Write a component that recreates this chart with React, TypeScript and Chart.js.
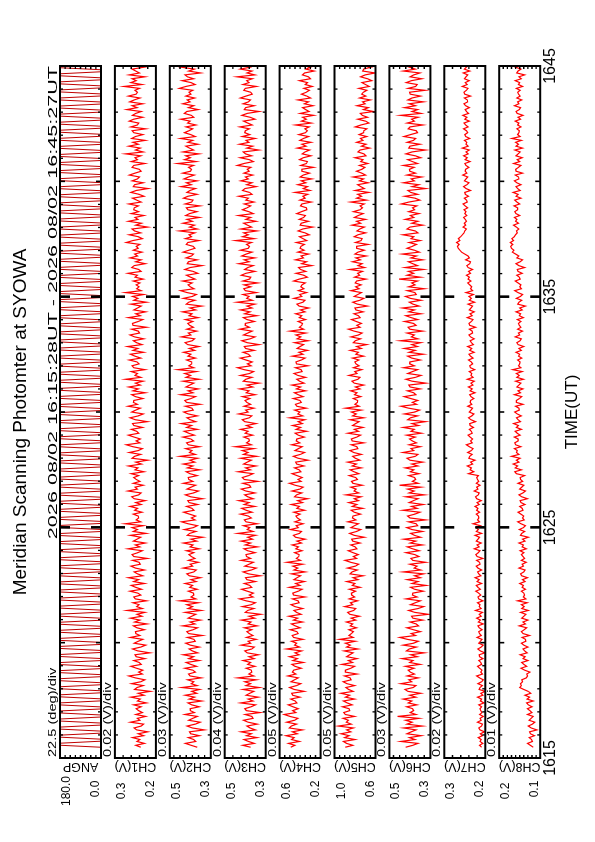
import React, { useEffect, useRef } from "react";
import { Chart, registerables } from "chart.js";

Chart.register(...registerables);

const FONT = '"Liberation Sans", Arial, Helvetica, sans-serif';
const W = 842;
const H = 595;

// ---------- texts ----------
const titleText = "Meridian Scanning Photomter at SYOWA";
const periodText = "2026 08/02 16:15:28UT - 2026 08/02 16:45:27UT";
const timeAxisTitle = "TIME(UT)";

// ---------- time axis (minutes after 16:00 UT) ----------
const timeStart = 15 + 28 / 60;
const timeEnd = 45 + 27 / 60;
const axisMinMin = 15;
const axisMaxMin = 45;
const timeLabelValues = [15, 25, 35, 45];
const timeLabels = ["1615", "1625", "1635", "1645"];

// ---------- panels ----------
const panelNames = ["ANGP", "CH1(V)", "CH2(V)", "CH3(V)", "CH4(V)", "CH5(V)", "CH6(V)", "CH7(V)", "CH8(V)"];
const panelMin = [0, 0.2, 0.3, 0.3, 0.2, 0.6, 0.3, 0.2, 0.1];
const panelMax = [180, 0.3, 0.5, 0.5, 0.6, 1.0, 0.5, 0.3, 0.2];
const minLabels = ["0.0", "0.2", "0.3", "0.3", "0.2", "0.6", "0.3", "0.2", "0.1"];
const maxLabels = ["180.0", "0.3", "0.5", "0.5", "0.6", "1.0", "0.5", "0.3", "0.2"];
const divSize = [22.5, 0.02, 0.03, 0.04, 0.05, 0.05, 0.03, 0.02, 0.01];
const divLabels = [
  "22.5 (deg)/div", "0.02 (V)/div", "0.03 (V)/div", "0.04 (V)/div", "0.05 (V)/div",
  "0.05 (V)/div", "0.03 (V)/div", "0.02 (V)/div", "0.01 (V)/div",
];

// ---------- series ----------
const angpDeg = [
  0,180,180,0,0,180,180,0,0,180,180,0,0,180,180,0,0,180,180,0,
  0,180,180,0,0,180,180,0,0,180,180,0,0,180,180,0,0,180,180,0,
  0,180,180,0,0,180,180,0,0,180,180,0,0,180,180,0,0,180,180,0,
  0,180,180,0,0,180,180,0,0,180,180,0,0,180,180,0,0,180,180,0,
  0,180,180,0,0,180,180,0,0,180,180,0,0,180,180,0,0,180,180,0,
  0,180,180,0,0,180,180,0,0,180,180,0,0,180,180,0,0,180,180,0,
  0,180,180,0,0,180,180,0,0,180,180,0,0,180,180,0,0,180,180,0,
  0,180,180,0,0,180,180,0,0,180,180,0,0,180,180,0,0,180,180,0,
  0,180,180,0,0,180,180,0,0,180,180,0,0,180,180,0,0,180,180,0,
  0,180,180,0,0,180,180,0,0,180,180,0,0,180,180,0,0,180,180,0,
  0,180,180,0,0,180,180,0,0,180,180,0,0,180,180,0,0,180,180,0,
  0,180,180,0,0,180,180,0,0,180,180,0,0,180,180,0,0,180,180,0,
  0,180,180,0,0,180,180,0,0,180,180,0,0,180,180,0,0,180,180,0,
  0,180,180,0,0,180,180,0,0,180,180,0,0,180,180,0,0,180,180,0,
  0,180,180,0,0,180,180,0,0,180,180,0,0,180,180,0,0,180,180,0,
  0,180,180,0,0,180,180,0,0,180,180,0,0,180,180,0,0,180,180,0,
  0,180,180,0,0,180,180,0,0,180,180,0,0,180,180,0,0,180,180,0,
  0,180,180,0,
];

const ch1mV = [
  237,249,228,246,239,257,230,243,220,247,253,236,230,262,239,245,225,249,233,242,
  248,236,254,223,245,238,261,229,243,214,252,246,231,259,237,227,250,266,233,242,
  232,247,261,236,241,254,227,248,251,215,244,257,237,225,253,243,232,262,239,249,
  250,228,246,255,222,252,239,262,234,246,227,270,233,247,241,256,223,250,254,237,
  244,263,235,249,260,228,254,242,267,232,245,253,228,250,261,238,241,257,221,254,
  258,244,233,268,239,250,226,255,246,237,262,224,255,245,258,231,275,237,248,242,
  243,255,234,252,245,263,236,249,226,253,259,242,236,268,245,251,231,255,239,248,
  254,242,260,229,251,244,267,235,249,220,258,252,237,265,243,233,256,272,239,248,
  238,253,267,242,247,260,233,254,257,221,250,263,243,231,259,249,238,268,245,255,
  254,232,250,259,226,256,243,266,238,250,231,274,237,251,245,260,227,254,258,241,
  246,265,237,251,262,230,256,244,269,234,247,255,230,252,263,240,243,259,223,256,
  257,243,232,267,238,249,225,254,245,236,261,223,254,244,257,230,274,236,247,241,
  248,239,255,231,251,245,268,236,242,259,253,226,249,236,263,245,252,234,255,243,
  248,239,272,256,233,243,265,237,252,258,220,249,235,267,244,251,229,260,242,254,
  253,243,266,236,247,257,229,241,261,248,219,255,252,231,258,245,240,265,251,236,
  241,258,254,227,260,245,251,237,274,231,250,238,266,243,256,226,259,250,232,254,
  258,225,261,245,242,265,254,232,257,249,236,271,246,258,232,264,253,239,267,248,
  245,251,240,278,234,261,248,258,227,265,240,249,258,229,253,242,271,236,247,261,
];

const ch2mV = [
  366,396,424,374,384,410,356,398,404,332,390,416,376,352,408,388,366,426,380,400,
  401,357,393,411,345,405,379,425,369,393,355,441,367,395,383,413,347,401,409,375,
  388,426,370,398,420,356,408,384,434,364,390,406,356,400,422,376,382,414,342,408,
  417,387,365,437,377,401,351,411,393,373,425,347,411,389,417,361,451,373,397,383,
  385,410,367,403,389,425,371,397,350,405,417,383,371,435,389,401,361,409,377,395,
  407,383,419,357,401,387,433,369,397,339,415,403,373,429,385,365,411,443,377,395,
  374,404,432,382,392,418,364,406,412,340,398,424,384,360,416,396,374,434,388,408,
  410,366,402,420,354,414,388,434,378,402,364,450,376,404,392,422,356,410,418,384,
  398,436,380,408,430,366,418,394,444,374,400,416,366,410,432,386,392,424,352,418,
  427,397,375,447,387,411,361,421,403,383,435,357,421,399,427,371,461,383,407,393,
  393,418,375,411,397,433,379,405,358,413,425,391,379,443,397,409,369,417,385,403,
  412,388,424,362,406,392,438,374,402,344,420,408,378,434,390,370,416,448,382,400,
  411,391,437,377,399,419,363,387,427,401,343,415,409,367,421,395,385,435,407,377,
  386,420,412,358,424,394,406,378,452,366,404,380,436,390,416,356,422,404,368,412,
  419,353,425,393,387,433,411,367,417,401,375,445,395,419,367,431,409,381,437,399,
  394,408,384,462,372,428,400,422,358,436,384,404,422,362,412,388,448,376,398,428,
  407,389,421,373,413,401,447,383,395,429,417,362,409,383,437,401,415,379,422,397,
  406,388,454,422,376,396,440,384,414,426,350,408,380,444,398,412,368,430,394,418,
];

const ch3mV = [
  374,412,356,384,406,342,394,370,420,350,376,392,342,386,408,362,368,400,328,394,
  402,372,350,422,362,386,336,396,378,358,410,332,396,374,402,346,436,358,382,368,
  370,395,352,388,374,410,356,382,335,390,402,368,356,420,374,386,346,394,362,380,
  392,368,404,342,386,372,418,354,382,324,400,388,358,414,370,350,396,428,362,380,
  360,390,418,368,378,404,350,392,398,326,384,410,370,346,402,382,360,420,374,394,
  396,352,388,406,340,400,374,420,364,388,350,436,362,390,378,408,342,396,404,370,
  385,423,367,395,417,353,405,381,431,361,387,403,353,397,419,373,379,411,339,405,
  414,384,362,434,374,398,348,408,390,370,422,344,408,386,414,358,448,370,394,380,
  382,407,364,400,386,422,368,394,347,402,414,380,368,432,386,398,358,406,374,392,
  401,377,413,351,395,381,427,363,391,333,409,397,367,423,379,359,405,437,371,389,
  366,396,424,374,384,410,356,398,404,332,390,416,376,352,408,388,366,426,380,400,
  399,355,391,409,343,403,377,423,367,391,353,439,365,393,381,411,345,399,407,373,
  405,339,411,379,373,419,397,353,403,387,361,431,381,405,353,417,395,367,423,385,
  379,393,369,447,357,413,385,407,343,421,369,389,407,347,397,373,433,361,383,413,
  391,373,405,357,397,385,431,367,379,413,401,346,393,367,421,385,399,363,406,381,
  390,372,438,406,360,380,424,368,398,410,334,392,364,428,382,396,352,414,378,402,
  400,380,426,366,388,408,352,376,416,390,332,404,398,356,410,384,374,424,396,366,
  373,407,399,345,411,381,393,365,439,353,391,367,423,377,403,343,409,391,355,399,
];

const ch4mV = [
  492,452,513,407,482,458,537,428,475,377,506,486,435,530,455,421,499,554,441,472,
  418,469,516,431,448,492,401,472,482,360,458,503,435,394,489,455,418,520,441,475,
  463,389,450,480,368,470,426,504,409,450,385,531,406,453,433,484,372,463,477,419,
  431,495,400,448,485,376,465,424,509,390,434,461,376,451,488,410,420,475,352,465,
  471,419,382,505,402,443,358,460,430,396,484,351,460,423,471,375,528,396,437,413,
  410,453,380,441,417,478,387,431,351,444,465,407,387,495,417,438,370,451,397,427,
  441,401,462,356,431,407,486,377,424,326,455,435,384,479,404,370,448,503,390,421,
  380,431,478,393,410,454,363,434,444,322,420,465,397,356,451,417,380,482,403,437,
  432,358,419,449,337,439,395,473,378,419,354,500,375,422,402,453,341,432,446,388,
  402,466,371,419,456,347,436,395,480,361,405,432,347,422,459,381,391,446,323,436,
  441,389,352,475,372,413,328,430,400,366,454,321,430,393,441,345,498,366,407,383,
  376,419,346,407,383,444,353,397,317,410,431,373,353,461,383,404,336,417,363,393,
  381,350,463,408,330,364,439,344,395,415,286,384,337,446,367,391,316,422,361,401,
  392,358,437,335,372,406,311,352,420,375,277,399,389,318,409,365,348,433,386,335,
  338,396,382,291,403,352,372,325,450,304,369,328,423,345,389,287,399,369,308,382,
  383,270,393,338,328,406,369,294,379,352,308,427,342,383,294,403,366,318,413,349,
  329,353,312,444,291,387,339,376,267,400,312,346,376,274,359,318,421,298,335,387,
  339,309,363,282,350,329,407,299,319,377,356,263,343,299,390,329,353,292,365,322,
];

const ch5mV = [
  895,821,882,912,800,902,858,936,841,882,817,963,838,885,865,916,804,895,909,851,
  859,923,828,876,913,804,893,852,937,818,862,889,804,879,916,838,848,903,780,893,
  893,841,804,927,824,865,780,882,852,818,906,773,882,845,893,797,950,818,859,835,
  816,859,786,847,823,884,793,837,757,850,871,813,793,901,823,844,776,857,803,833,
  835,795,856,750,825,801,880,771,818,720,849,829,778,873,798,764,842,897,784,815,
  768,819,866,781,798,842,751,822,832,710,808,853,785,744,839,805,768,870,791,825,
  820,746,807,837,725,827,783,861,766,807,742,888,763,810,790,841,729,820,834,776,
  793,857,762,810,847,738,827,786,871,752,796,823,738,813,850,772,782,837,714,827,
  835,783,746,869,766,807,722,824,794,760,848,715,824,787,835,739,892,760,801,777,
  774,817,744,805,781,842,751,795,715,808,829,771,751,859,781,802,734,815,761,791,
  802,762,823,717,792,768,847,738,785,687,816,796,745,840,765,731,809,864,751,782,
  737,788,835,750,767,811,720,791,801,679,777,822,754,713,808,774,737,839,760,794,
  740,798,784,693,805,754,774,727,852,706,771,730,825,747,791,689,801,771,710,784,
  785,672,795,740,730,808,771,696,781,754,710,829,744,785,696,805,768,720,815,751,
  727,751,710,842,689,785,737,774,665,798,710,744,774,672,757,716,819,696,733,785,
  733,703,757,676,744,723,801,693,713,771,750,657,737,693,784,723,747,686,759,716,
  715,684,797,742,664,698,773,678,729,749,620,718,671,780,701,725,650,756,695,735,
  718,684,763,661,698,732,637,678,746,701,603,725,715,644,735,691,674,759,712,661,
];

const ch6mV = [
  421,386,361,444,375,402,345,414,393,370,430,340,414,389,421,356,460,370,398,382,
  387,416,366,408,391,433,371,401,347,410,424,384,371,444,391,405,359,414,378,398,
  408,380,422,350,401,385,438,364,396,330,417,403,369,433,382,359,412,449,373,394,
  349,383,415,358,369,399,337,386,392,310,376,406,360,333,397,374,349,418,365,388,
  386,335,377,397,321,390,360,413,349,377,333,432,347,379,365,400,324,386,395,356,
  376,419,355,387,413,339,399,371,429,348,378,396,339,390,415,362,369,406,323,399,
  411,376,351,434,365,392,335,404,383,360,420,330,404,379,411,346,450,360,388,372,
  377,406,356,398,381,423,361,391,337,400,414,374,361,434,381,395,349,404,368,388,
  402,374,416,344,395,379,432,358,390,324,411,397,363,427,376,353,406,443,367,388,
  362,396,428,371,382,412,350,399,405,323,389,419,373,346,410,387,362,431,378,401,
  400,349,391,411,335,404,374,427,363,391,347,446,361,393,379,414,338,400,409,370,
  383,426,362,394,420,346,406,378,436,355,385,403,346,397,422,369,376,413,330,406,
  375,391,363,453,349,414,382,407,333,423,363,386,407,338,395,368,437,354,379,414,
  388,368,404,349,395,381,434,361,374,414,400,337,391,361,423,381,398,356,406,377,
  387,366,442,405,352,375,426,362,396,410,323,389,357,431,378,394,343,415,373,401,
  402,379,432,363,388,411,347,374,420,390,324,406,400,351,413,383,372,429,397,363,
  369,408,399,337,413,378,392,360,445,346,390,362,426,373,403,334,410,390,348,399,
  402,326,409,372,365,418,393,342,399,381,351,432,374,402,342,416,390,358,422,379,
];

const ch7mV = [
  209,214,206,213,210,217,207,212,202,213,216,209,207,219,210,213,205,214,208,211,
  213,209,216,203,212,209,219,206,211,200,215,213,207,218,209,205,214,221,207,211,
  208,214,219,209,211,216,206,214,215,201,212,218,210,205,216,212,208,220,210,214,
  216,208,215,218,205,217,212,221,210,215,207,224,210,215,213,219,206,216,218,211,
  216,223,212,218,222,209,220,215,225,211,216,219,209,218,222,213,214,221,206,220,
  223,217,213,227,215,220,210,222,218,214,225,209,222,217,223,212,230,214,219,216,
  217,222,214,221,218,225,215,220,210,221,224,217,215,227,218,221,213,222,216,219,
  221,217,241,228,237,234,244,231,236,225,240,238,232,243,234,230,239,246,232,236,
  231,237,242,232,234,239,229,237,238,224,235,241,233,228,239,235,231,243,233,237,
  236,228,235,238,225,237,232,241,230,235,227,244,230,235,233,239,226,236,238,231,
  234,241,230,236,240,227,238,233,243,229,234,237,227,236,240,231,232,239,224,238,
  240,234,230,244,232,237,227,239,235,231,242,226,239,234,240,229,247,231,236,233,
  238,243,235,242,239,246,236,241,231,242,245,238,236,248,239,242,250,258,262,266,
  268,264,270,262,266,260,256,252,250,246,254,248,251,246,249,253,245,250,247,252,
  243,249,254,244,246,251,241,249,250,236,247,253,245,240,251,247,243,255,245,249,
  248,240,247,250,237,249,244,253,242,247,239,256,242,247,245,251,238,248,250,243,
  246,253,242,248,252,239,250,245,255,241,246,249,239,248,252,243,244,251,236,250,
  252,246,242,256,244,249,239,251,247,243,254,238,251,246,252,241,259,243,248,245,
];

const ch8mV = [
  117,124,131,119,121,127,114,124,126,108,122,129,119,113,127,122,117,131,120,125,
  131,120,129,133,117,132,126,137,123,129,140,150,146,148,143,145,134,131,133,125,
  138,147,133,140,145,130,142,137,149,132,138,142,130,140,146,135,136,144,126,142,
  146,139,133,151,136,142,130,145,140,135,148,129,145,139,146,132,155,135,141,138,
  140,146,136,144,141,150,137,143,131,145,148,140,137,152,141,144,134,146,138,142,
  146,140,149,134,144,141,152,137,143,129,148,145,138,151,141,136,147,155,139,143,
  140,147,154,142,144,150,137,147,149,131,145,152,142,136,150,145,140,154,143,148,
  149,138,158,162,146,161,155,166,152,158,149,170,152,158,156,163,147,160,162,154,
  154,163,149,156,161,146,158,153,165,148,154,158,146,156,162,151,152,160,142,158,
  158,151,145,163,148,154,142,157,152,147,160,141,157,151,158,144,167,147,153,150,
  149,155,145,153,150,159,146,152,140,154,157,149,146,161,150,153,143,155,147,151,
  153,147,156,141,151,148,159,144,150,136,155,152,145,158,148,143,154,162,146,150,
  147,154,161,149,151,157,144,154,156,138,152,159,149,143,157,152,160,168,164,170,
  172,167,173,165,169,163,160,156,158,152,158,165,153,160,157,163,150,159,162,155,
  155,164,150,157,162,147,159,154,166,149,155,159,147,157,163,152,153,161,143,159,
  160,153,147,165,150,156,144,159,154,149,162,143,159,153,160,146,169,149,155,152,
  151,157,147,155,152,161,148,154,142,156,159,151,148,163,152,155,145,157,149,153,
  155,149,158,143,153,150,161,146,152,138,157,154,147,160,150,145,156,164,148,152,
];

// ---------- layout (landscape frame, rotated onto the portrait page) ----------
const PLOT_LEFT = 84;
const PLOT_RIGHT = 776;
const FIRST_TOP = 60;
const PITCH = 54.9;
const PANEL_H = 41;

function toPoints(values: number[], scale: number) {
  const step = (timeEnd - timeStart) / (values.length - 1);
  return values.map((v, i) => ({ x: timeStart + i * step, y: v * scale }));
}

const seriesList = [
  { values: angpDeg, scale: 1, color: "#c00000", width: 1 },
  { values: ch1mV, scale: 0.001, color: "#ff0000", width: 1.2 },
  { values: ch2mV, scale: 0.001, color: "#ff0000", width: 1.2 },
  { values: ch3mV, scale: 0.001, color: "#ff0000", width: 1.2 },
  { values: ch4mV, scale: 0.001, color: "#ff0000", width: 1.2 },
  { values: ch5mV, scale: 0.001, color: "#ff0000", width: 1.2 },
  { values: ch6mV, scale: 0.001, color: "#ff0000", width: 1.2 },
  { values: ch7mV, scale: 0.001, color: "#ff0000", width: 1.2 },
  { values: ch8mV, scale: 0.001, color: "#ff0000", width: 1.2 },
];

function drawScaledText(ctx: CanvasRenderingContext2D, text: string, x: number, y: number, sx: number, align: "left" | "right") {
  ctx.save();
  ctx.translate(x, y);
  ctx.scale(sx, 1);
  ctx.textAlign = align;
  ctx.textBaseline = "alphabetic";
  ctx.fillText(text, 0, 0);
  ctx.restore();
}

function makePanelPlugin(i: number, last: boolean) {
  return {
    id: "panelDeco" + i,
    afterDatasetsDraw(chart: any) {
      const ctx: CanvasRenderingContext2D = chart.ctx;
      const a = chart.chartArea;
      const xs = chart.scales.x;
      const ys = chart.scales.y;
      ctx.save();
      ctx.strokeStyle = "#000";
      ctx.fillStyle = "#000";
      ctx.lineCap = "butt";

      // time ticks on top and bottom edges
      for (let m = axisMinMin + 1; m < axisMaxMin; m++) {
        const x = xs.getPixelForValue(m);
        let len = 3;
        let lw = 1.3;
        if (timeLabelValues.includes(m)) {
          len = 10;
          lw = 2.6;
        } else if (m % 5 === 0) {
          len = 5;
          lw = 1.6;
        }
        ctx.lineWidth = lw;
        ctx.beginPath();
        ctx.moveTo(x, a.top);
        ctx.lineTo(x, a.top + len);
        ctx.moveTo(x, a.bottom);
        ctx.lineTo(x, a.bottom - len);
        ctx.stroke();
      }

      // value ticks on left and right edges
      ctx.lineWidth = 1.4;
      for (let k = 1; k < 100; k++) {
        const v = panelMin[i] + k * divSize[i];
        if (v >= panelMax[i] - 1e-9) break;
        const y = ys.getPixelForValue(v);
        ctx.beginPath();
        ctx.moveTo(a.left, y);
        ctx.lineTo(a.left + 3, y);
        ctx.moveTo(a.right, y);
        ctx.lineTo(a.right - 3, y);
        ctx.stroke();
      }

      // frame
      ctx.lineWidth = 2;
      ctx.strokeRect(a.left, a.top, a.right - a.left, a.bottom - a.top);

      // value labels
      ctx.font = "12px " + FONT;
      ctx.textAlign = "center";
      ctx.textBaseline = "alphabetic";
      ctx.fillText(maxLabels[i], 51, a.top + 10);
      ctx.fillText(minLabels[i], 53, a.bottom - 2);

      // channel name
      ctx.save();
      ctx.font = "12.5px " + FONT;
      ctx.translate(79, (a.top + a.bottom) / 2);
      ctx.rotate(-Math.PI / 2);
      ctx.textAlign = "center";
      ctx.fillText(panelNames[i], 0, 0);
      ctx.restore();

      // per-division label
      ctx.font = "11.5px " + FONT;
      drawScaledText(ctx, divLabels[i], a.left + 1, a.top - 4, 1.27, "left");

      if (i === 0) {
        ctx.font = "19px " + FONT;
        ctx.textAlign = "center";
        ctx.fillText(titleText, 420, 26);
        ctx.font = "13.5px " + FONT;
        drawScaledText(ctx, periodText, a.right, a.top - 3, 1.6, "right");
      }

      if (last) {
        ctx.font = "16px " + FONT;
        ctx.textAlign = "center";
        ctx.textBaseline = "alphabetic";
        timeLabelValues.forEach((v, k) => {
          ctx.fillText(timeLabels[k], xs.getPixelForValue(v), a.bottom + 15);
        });
        ctx.font = "17px " + FONT;
        ctx.fillText(timeAxisTitle, (a.left + a.right) / 2, a.bottom + 37);
      }
      ctx.restore();
    },
  };
}

export default function App() {
  const refs = useRef<(HTMLCanvasElement | null)[]>([]);

  useEffect(() => {
    const charts: Chart[] = [];
    seriesList.forEach((s, i) => {
      const canvas = refs.current[i];
      if (!canvas) return;
      const top = FIRST_TOP + i * PITCH;
      const chart = new Chart(canvas, {
        type: "line",
        data: {
          datasets: [
            {
              data: toPoints(s.values, s.scale),
              borderColor: s.color,
              borderWidth: s.width,
              pointRadius: 0,
              tension: 0,
              fill: false,
            },
          ],
        },
        options: {
          animation: false,
          responsive: false,
          events: [],
          layout: {
            padding: {
              left: PLOT_LEFT,
              right: W - PLOT_RIGHT,
              top: top,
              bottom: H - top - PANEL_H,
            },
          },
          plugins: {
            legend: { display: false },
            tooltip: { enabled: false },
            title: { display: false },
          },
          scales: {
            x: { type: "linear", min: axisMinMin, max: axisMaxMin, display: false },
            y: { type: "linear", min: panelMin[i], max: panelMax[i], display: false },
          },
        },
        plugins: [makePanelPlugin(i, i === seriesList.length - 1)],
      } as any);
      charts.push(chart);
    });
    return () => charts.forEach((c) => c.destroy());
  }, []);

  return (
    <div
      style={{
        position: "absolute",
        left: 0,
        top: 0,
        width: W,
        height: H,
        background: "#fff",
        transformOrigin: "0 0",
        transform: `translate(0px, ${W}px) rotate(-90deg)`,
      }}
    >
      {seriesList.map((_, i) => (
        <canvas
          key={i}
          ref={(el) => {
            refs.current[i] = el;
          }}
          width={W}
          height={H}
          style={{ position: "absolute", left: 0, top: 0, width: W, height: H }}
        />
      ))}
    </div>
  );
}
